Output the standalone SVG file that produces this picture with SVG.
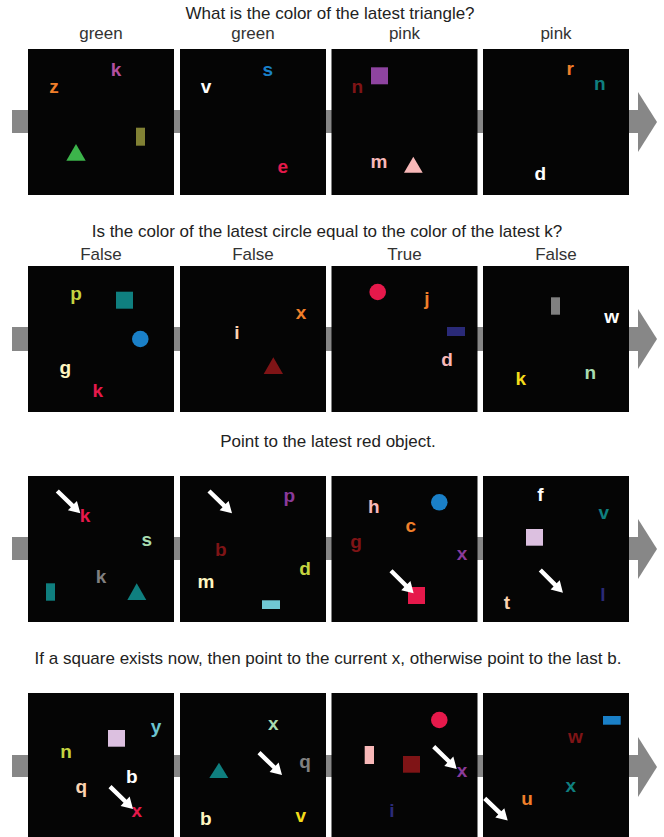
<svg xmlns="http://www.w3.org/2000/svg" xmlns:xlink="http://www.w3.org/1999/xlink" width="664" height="837" viewBox="0 0 664 837">
<style>
.bg{fill:#ffffff}
.panel{fill:#050505}
.bar{fill:#878787}
.title{font-family:"Liberation Sans",Arial,sans-serif;font-size:17px;fill:#222;text-anchor:middle}
.lbl{font-family:"Liberation Sans",Arial,sans-serif;font-size:17px;fill:#333;text-anchor:middle}
.g{font-family:"Liberation Sans",Arial,sans-serif;font-size:19px;font-weight:bold;text-anchor:middle}
</style>
<defs>
<polygon id="ptr" points="0,-2.2 21,-2.2 21,-6.5 32,0 21,6.5 21,2.2 0,2.2" fill="#ffffff"/>
</defs>
<rect class="bg" x="0" y="0" width="664" height="837"/>

<g id="connectors">
<rect class="bar" x="12" y="110" width="627" height="23"/>
<polygon class="bar" points="638,92 657,122 638,152"/>
<rect class="bar" x="12" y="327" width="627" height="24"/>
<polygon class="bar" points="638,309 657,339 638,369"/>
<rect class="bar" x="12" y="537" width="627" height="23"/>
<polygon class="bar" points="638,519 657,549 638,579"/>
<rect class="bar" x="12" y="755" width="627" height="22"/>
<polygon class="bar" points="638,737 657,767 638,797"/>
</g>

<g id="titles">
<text class="title" x="330" y="19">What is the color of the latest triangle?</text>
<text class="title" x="327" y="237">Is the color of the latest circle equal to the color of the latest k?</text>
<text class="title" x="328" y="446.5">Point to the latest red object.</text>
<text class="title" x="328" y="664">If a square exists now, then point to the current x, otherwise point to the last b.</text>
</g>

<g id="labels">
<text class="lbl" x="101" y="39">green</text>
<text class="lbl" x="253" y="39">green</text>
<text class="lbl" x="404.5" y="39">pink</text>
<text class="lbl" x="556" y="39">pink</text>
<text class="lbl" x="101" y="260">False</text>
<text class="lbl" x="253" y="260">False</text>
<text class="lbl" x="404.5" y="260">True</text>
<text class="lbl" x="556" y="260">False</text>
</g>

<!-- Row 1 -->
<g id="r1p1">
<rect class="panel" x="28" y="49" width="146" height="146"/>
<text class="g" x="54" y="93.3" fill="#f07f2a">z</text>
<text class="g" x="116" y="75.7" fill="#b24fa0">k</text>
<polygon points="76,144 66.3,160.7 85.7,160.7" fill="#3cb44b"/>
<rect x="136" y="127.7" width="9" height="18" fill="#818134"/>
</g>
<g id="r1p2">
<rect class="panel" x="180" y="49" width="146" height="146"/>
<text class="g" x="206" y="93" fill="#ffffff">v</text>
<text class="g" x="267.7" y="75.7" fill="#1a80c8">s</text>
<text class="g" x="282.7" y="172.7" fill="#e6194b">e</text>
</g>
<g id="r1p3">
<rect class="panel" x="331.5" y="49" width="146" height="146"/>
<rect x="371" y="67.3" width="17" height="17" fill="#8e44a0"/>
<text class="g" x="357.3" y="93.3" fill="#7f1416">n</text>
<text class="g" x="379" y="168.3" fill="#f8b8b8">m</text>
<polygon points="413.3,156.7 404,172.7 422.7,172.7" fill="#f8b8b8"/>
</g>
<g id="r1p4">
<rect class="panel" x="483" y="49" width="146" height="146"/>
<text class="g" x="570.3" y="75" fill="#f07f2a">r</text>
<text class="g" x="599.7" y="90" fill="#0f7f7f">n</text>
<text class="g" x="540.3" y="180" fill="#ffffff">d</text>
</g>

<!-- Row 2 -->
<g id="r2p1">
<rect class="panel" x="28" y="266" width="146" height="146"/>
<text class="g" x="76" y="300" fill="#c4d440">p</text>
<rect x="116" y="291.7" width="17" height="17" fill="#0f7f7f"/>
<circle cx="140.3" cy="339" r="8.3" fill="#1a80c8"/>
<text class="g" x="65.3" y="374" fill="#fff6c0">g</text>
<text class="g" x="97.7" y="396.7" fill="#e6194b">k</text>
</g>
<g id="r2p2">
<rect class="panel" x="180" y="266" width="146" height="146"/>
<text class="g" x="237" y="339" fill="#fbd3b0">i</text>
<text class="g" x="301" y="319.3" fill="#f07f2a">x</text>
<polygon points="273.3,357.3 263.7,374 283,374" fill="#7f1416"/>
</g>
<g id="r2p3">
<rect class="panel" x="331.5" y="266" width="146" height="146"/>
<circle cx="377.7" cy="292" r="8.3" fill="#e6194b"/>
<text class="g" x="427" y="305" fill="#f07f2a">j</text>
<rect x="447" y="327" width="18" height="9" fill="#2a2a78"/>
<text class="g" x="447" y="366" fill="#f8b8b8">d</text>
</g>
<g id="r2p4">
<rect class="panel" x="483" y="266" width="146" height="146"/>
<rect x="551" y="297.3" width="9" height="17.4" fill="#808080"/>
<text class="g" x="611.7" y="323.3" fill="#ffffff">w</text>
<text class="g" x="520.7" y="385" fill="#f4dc1a">k</text>
<text class="g" x="590.3" y="379.3" fill="#a8dcb0">n</text>
</g>

<!-- Row 3 -->
<g id="r3p1">
<rect class="panel" x="28" y="476" width="146" height="146"/>
<text class="g" x="85" y="521.7" fill="#e6194b">k</text>
<use xlink:href="#ptr" href="#ptr" transform="translate(57.3,491) rotate(44)"/>
<text class="g" x="146.7" y="546" fill="#a8dcb0">s</text>
<text class="g" x="101" y="582.7" fill="#808080">k</text>
<rect x="46" y="583.3" width="9" height="17.4" fill="#0f7f7f"/>
<polygon points="136.7,583.3 127.3,600 146.3,600" fill="#0f7f7f"/>
</g>
<g id="r3p2">
<rect class="panel" x="180" y="476" width="146" height="146"/>
<use xlink:href="#ptr" href="#ptr" transform="translate(209,491) rotate(44)"/>
<text class="g" x="289.3" y="501.7" fill="#8a3a9a">p</text>
<text class="g" x="220.7" y="556" fill="#7f1416">b</text>
<text class="g" x="206" y="588.3" fill="#fff6c0">m</text>
<text class="g" x="305" y="575" fill="#c4d440">d</text>
<rect x="262" y="600.3" width="18" height="8.7" fill="#70c8d4"/>
</g>
<g id="r3p3">
<rect class="panel" x="331.5" y="476" width="146" height="146"/>
<text class="g" x="373.7" y="512.7" fill="#f8b8b8">h</text>
<circle cx="439.3" cy="502.3" r="8.3" fill="#1a80c8"/>
<text class="g" x="410.7" y="531.7" fill="#f07f2a">c</text>
<text class="g" x="356" y="548.3" fill="#7f1416">g</text>
<text class="g" x="462" y="560" fill="#8a3a9a">x</text>
<rect x="408" y="587" width="17" height="17" fill="#e6194b"/>
<use xlink:href="#ptr" href="#ptr" transform="translate(391,570.7) rotate(45)"/>
</g>
<g id="r3p4">
<rect class="panel" x="483" y="476" width="146" height="146"/>
<text class="g" x="540.3" y="501" fill="#ffffff">f</text>
<text class="g" x="603.7" y="519.3" fill="#0f7f7f">v</text>
<rect x="526" y="529" width="17" height="16.7" fill="#dcc0e0"/>
<use xlink:href="#ptr" href="#ptr" transform="translate(540.3,570) rotate(45)"/>
<text class="g" x="603" y="600.7" fill="#2a2a78">l</text>
<text class="g" x="507" y="609" fill="#fbd3b0">t</text>
</g>

<!-- Row 4 -->
<g id="r4p1">
<rect class="panel" x="28" y="693" width="146" height="146"/>
<rect x="108" y="730" width="17" height="16.7" fill="#dcc0e0"/>
<text class="g" x="156" y="733.3" fill="#6cc4d0">y</text>
<text class="g" x="66" y="758.3" fill="#c4d440">n</text>
<text class="g" x="131.7" y="783.3" fill="#ffffff">b</text>
<text class="g" x="81.3" y="792.7" fill="#fbd3b0">q</text>
<text class="g" x="136.7" y="817.3" fill="#e6194b">x</text>
<use xlink:href="#ptr" href="#ptr" transform="translate(110,786.7) rotate(44)"/>
</g>
<g id="r4p2">
<rect class="panel" x="180" y="693" width="146" height="146"/>
<text class="g" x="273.3" y="730" fill="#a8dcb0">x</text>
<polygon points="219,762.7 209.3,778 228.3,778" fill="#0f7f7f"/>
<use xlink:href="#ptr" href="#ptr" transform="translate(259,752.7) rotate(44)"/>
<text class="g" x="305" y="768.3" fill="#808080">q</text>
<text class="g" x="205.7" y="825" fill="#fff6c0">b</text>
<text class="g" x="300.7" y="821.7" fill="#f4dc1a">v</text>
</g>
<g id="r4p3">
<rect class="panel" x="331.5" y="693" width="146" height="146"/>
<circle cx="439.3" cy="720" r="8.3" fill="#e6194b"/>
<rect x="364.7" y="746" width="9.3" height="18" fill="#f8b8b8"/>
<rect x="403" y="756" width="17" height="16.7" fill="#7f1416"/>
<text class="g" x="462" y="777.3" fill="#8a3a9a">x</text>
<use xlink:href="#ptr" href="#ptr" transform="translate(433.7,746.7) rotate(44)"/>
<text class="g" x="392" y="816.7" fill="#2a2a78">i</text>
</g>
<g id="r4p4">
<rect class="panel" x="483" y="693" width="146" height="146"/>
<rect x="603" y="716" width="17.7" height="8.7" fill="#1a80c8"/>
<text class="g" x="575.3" y="743.3" fill="#7f1416">w</text>
<text class="g" x="570.7" y="791.7" fill="#0f7f7f">x</text>
<text class="g" x="527" y="805" fill="#f07f2a">u</text>
<use xlink:href="#ptr" href="#ptr" transform="translate(484.7,798.3) rotate(44)"/>
</g>
</svg>
